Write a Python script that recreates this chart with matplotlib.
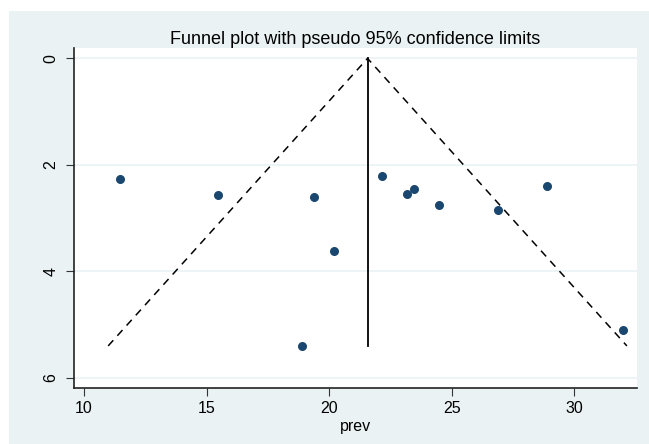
import matplotlib
matplotlib.use("Agg")
import matplotlib.pyplot as plt
from matplotlib.patches import Rectangle

# study estimates (prevalence) and their standard errors
prev = [11.47, 15.47, 19.38, 20.19, 18.89, 22.18, 23.18, 23.48, 24.48, 26.90, 28.89, 31.98]
se = [2.26, 2.56, 2.60, 3.61, 5.40, 2.20, 2.55, 2.45, 2.75, 2.85, 2.40, 5.10]
pooled = 21.57
se_max = 5.40
xticks = [10, 15, 20, 25, 30]
yticks = [0, 2, 4, 6]

bg = "#eaf2f3"
navy = "#1a476f"

plt.rcParams["font.family"] = ["Liberation Sans", "DejaVu Sans"]

fig = plt.figure(figsize=(6.49, 4.44), dpi=100)
fig.patches.append(Rectangle((9 / 649, 0), 1, 1 - 11 / 444, transform=fig.transFigure,
                             facecolor=bg, edgecolor="none", zorder=-10))
ax = fig.add_axes([73.7 / 649, 1 - 388 / 444, (636.6 - 73.7) / 649, (388 - 48.3) / 444])
ax.set_facecolor("white")

for t in yticks:
    ax.axhline(t, color=bg, lw=1.2, zorder=0)

# pseudo 95% limits
ax.plot([pooled - 1.96 * se_max, pooled, pooled + 1.96 * se_max], [se_max, 0, se_max],
        color="black", lw=1.1, ls=(0, (5, 4)))
ax.plot([pooled, pooled], [0, se_max], color="black", lw=1.3)
ax.scatter(prev, se, s=30, color=navy, zorder=3)

ax.set_xlim(9.58, 32.55)
ax.set_ylim(6.19, -0.19)
ax.set_xticks(xticks)
ax.set_yticks(yticks)
ax.tick_params(labelsize=11.5, length=6, width=0.8, color="#333333")
ax.tick_params(axis="y", pad=5)
for lab in ax.get_yticklabels():
    lab.set_rotation(90)
    lab.set_va("center")
ax.set_xlabel("prev", fontsize=11.5, labelpad=2)
ax.set_title("Funnel plot with pseudo 95% confidence limits", fontsize=13, pad=3)
for s in ["top", "right"]:
    ax.spines[s].set_visible(False)
for s in ["left", "bottom"]:
    ax.spines[s].set_color("#222222")
    ax.spines[s].set_linewidth(1.2)

fig.savefig("out.png", dpi=100)
